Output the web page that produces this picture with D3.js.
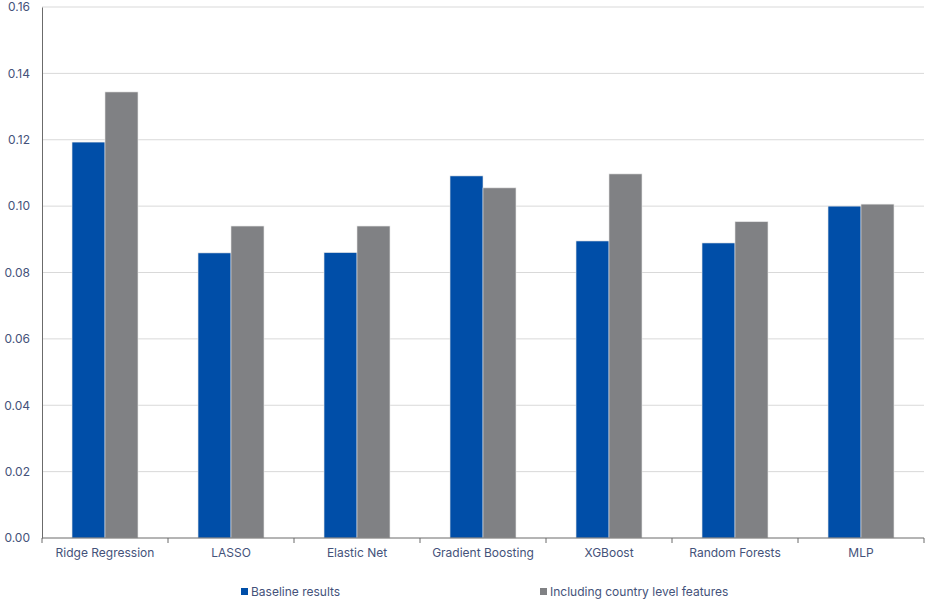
<!DOCTYPE html>
<html><head><meta charset="utf-8">
<script src="https://cdn.jsdelivr.net/npm/d3@7"></script>
<style>body{margin:0;background:#fff;}svg{display:block;font-family:Inter,"Open Sans",sans-serif;}</style>
</head><body><svg id="c" width="929" height="600"></svg>
<script>
const categories = ["Ridge Regression","LASSO","Elastic Net","Gradient Boosting","XGBoost","Random Forests","MLP"];
const seriesNames = ["Baseline results","Including country level features"];
const baseline = [0.1193,0.0859,0.0860,0.1091,0.0895,0.0889,0.1000];
const countryLevel = [0.1344,0.0940,0.0940,0.1055,0.1097,0.0953,0.1006];
const yTicks = [0,0.02,0.04,0.06,0.08,0.10,0.12,0.14,0.16];
const colors = ["#004ea8","#808184"];
const textColor = "#44527a";

const svg = d3.select("#c");
const m = {l:42, r:5, t:7, b:62};
const W = 929, H = 600;
const x = d3.scaleBand().domain(categories).range([m.l, W-m.r]).padding(0);
const y = d3.scaleLinear().domain([0,0.16]).range([H-m.b, m.t]);
const x1 = d3.scaleBand().domain(seriesNames).range([0, x.bandwidth()]).paddingInner(0).paddingOuter(0.91);

// gridlines
svg.append("g").selectAll("line").data(yTicks.slice(1)).join("line")
  .attr("x1", m.l).attr("x2", W-m.r)
  .attr("y1", d=>y(d)).attr("y2", d=>y(d))
  .attr("stroke","#d9d9d9").attr("stroke-width",1);

const data = categories.map((c,i)=>({c, vals:[baseline[i], countryLevel[i]]}));
const g = svg.append("g");
g.selectAll("g").data(data).join("g")
  .attr("transform", d=>`translate(${x(d.c)},0)`)
  .selectAll("rect").data(d=>d.vals.map((v,j)=>({v,j}))).join("rect")
  .attr("x", d=>x1(seriesNames[d.j])).attr("width", x1.bandwidth())
  .attr("y", d=>y(d.v)).attr("height", d=>y(0)-y(d.v))
  .attr("fill", d=>colors[d.j]).attr("stroke","#e4e4e4").attr("stroke-width",0.6);

// y axis
const ya = svg.append("g").attr("transform",`translate(${m.l},0)`)
  .call(d3.axisLeft(y).tickValues(yTicks).tickFormat(d3.format(".2f")).tickSize(0).tickPadding(12));
ya.select(".domain").attr("stroke","#6b6b6b");
ya.selectAll("text").attr("fill",textColor).style("font-size","12px").style("font-family","Inter,sans-serif");

// x axis
const xa = svg.append("g").attr("transform",`translate(0,${y(0)})`)
  .call(d3.axisBottom(x).tickSize(0).tickPadding(10));
xa.select(".domain").attr("stroke","#6b6b6b").attr("d",`M${m.l},0H${W-m.r}`);
xa.selectAll("text").attr("fill",textColor).style("font-size","12px").style("font-family","Inter,sans-serif");
// boundary ticks
const bounds = categories.map(c=>x(c)).concat([W-m.r]);
svg.append("g").selectAll("line").data(bounds).join("line")
  .attr("x1",d=>d).attr("x2",d=>d).attr("y1",y(0)).attr("y2",y(0)+5)
  .attr("stroke","#6b6b6b");

// legend
const legX = [241, 540];
const lg = svg.append("g").selectAll("g").data(seriesNames).join("g")
  .attr("transform",(d,i)=>`translate(${legX[i]},592)`);
lg.append("rect").attr("x",0).attr("y",-4).attr("width",7).attr("height",7).attr("fill",(d,i)=>colors[i]);
lg.append("text").attr("x",10).attr("y",0).attr("dy","0.35em").text(d=>d)
  .attr("fill",textColor).style("font-size","12px");
</script></body></html>
